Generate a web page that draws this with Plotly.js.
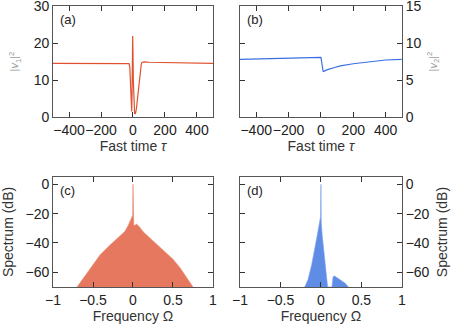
<!DOCTYPE html>
<html>
<head>
<meta charset="utf-8">
<script src="https://cdn.plot.ly/plotly-3.0.1.min.js"></script>
<style>
  html, body { margin: 0; padding: 0; background: #fff; }
  #chart { width: 452px; height: 328px; }
</style>
</head>
<body>
<div id="chart"></div>
<script>
// panel (a): |v1|^2 against fast time
const tauA = [-500, -300, -100, -40, -25, -20, -15, -10, -8, -6, -4, -2, 0, 2, 4, 7, 10, 13, 17, 22, 28, 34, 40, 46, 52, 58, 70, 100, 300, 500];
const v1 = [14.5, 14.5, 14.5, 14.5, 14.4, 13.5, 9, 3, 1.5, 6, 15, 21.9, 17, 10, 5, 2, 1, 0.8, 1.2, 2.5, 5, 8, 11, 13.3, 14.4, 14.8, 14.9, 14.8, 14.6, 14.5];

// panel (b): |v2|^2 against fast time
const tauB = [-500, -400, -200, 0, 4, 8, 14, 20, 40, 80, 120, 200, 300, 400, 500];
const v2 = [7.8, 7.85, 7.93, 8.05, 7.5, 6.8, 6.15, 6.2, 6.4, 6.65, 6.9, 7.2, 7.5, 7.7, 7.8];

// panel (c): spectrum of v1 (dB)
const omC = [-0.70, -0.62, -0.5, -0.41, -0.3, -0.2, -0.15, -0.1, -0.06, -0.03, -0.01, -0.004, 0, 0.004, 0.01, 0.02, 0.045, 0.08, 0.13, 0.2, 0.3, 0.42, 0.5, 0.59, 0.68, 0.75];
const specC = [-70, -64, -55, -48, -42, -37, -35, -32, -28, -24, -21.5, -21, 0, -25, -27.5, -28, -27, -29, -32.5, -36, -41, -46.5, -51, -57, -64, -70];

// panel (d): spectrum of v2 (dB)
const omD = [-0.2, -0.16, -0.115, -0.08, -0.053, -0.03, -0.012, -0.004, 0, 0.004, 0.015, 0.028, 0.045, 0.062, 0.083, 0.136, 0.15, 0.17, 0.21, 0.25, 0.3, 0.34];
const specD = [-70, -65, -55, -46, -37, -30, -25.5, -22, 0, -26, -34, -41, -50, -59.6, -70, -70, -63, -62.5, -64, -65.5, -67.5, -70];

const red = '#e0522f';
const blue = '#3b6fe0';

function axis(extra) {
  return Object.assign({
    showline: true, mirror: 'allticks', ticks: 'inside', ticklen: 5,
    tickcolor: '#333', linecolor: '#555', linewidth: 1,
    showgrid: false, zeroline: false, tickangle: 0, ticklabeloverflow: 'allow',
    tickfont: {size: 14, color: '#222'}
  }, extra);
}

const tauTitle = {text: 'Fast time <i>τ</i>', font: {size: 14, color: '#333'}, standoff: 4};
const omTitle = {text: 'Frequency Ω', font: {size: 14, color: '#333'}, standoff: 4};
const specTitle = {text: 'Spectrum (dB)', font: {size: 14, color: '#333'}, standoff: 8};

const traces = [
  {x: tauA, y: v1, xaxis: 'x', yaxis: 'y', mode: 'lines', line: {color: red, width: 1.2}},
  {x: tauB, y: v2, xaxis: 'x2', yaxis: 'y2', mode: 'lines', line: {color: blue, width: 1.2}},
  {x: omC, y: specC, xaxis: 'x3', yaxis: 'y3', mode: 'lines', fill: 'toself',
   fillcolor: '#e6785f', line: {color: '#ec8c74', width: 0.6}},
  {x: omD, y: specD, xaxis: 'x4', yaxis: 'y4', mode: 'lines', fill: 'toself',
   fillcolor: '#5f8de6', line: {color: '#7fa3ec', width: 0.6}}
];

const layout = {
  width: 452, height: 328,
  margin: {l: 0, r: 0, t: 0, b: 0},
  paper_bgcolor: '#fff', plot_bgcolor: '#fff',
  showlegend: false,
  font: {family: 'Liberation Sans, Arial, sans-serif', color: '#222'},
  xaxis: axis({domain: [0.1173, 0.4712], range: [-500, 500], dtick: 200, anchor: 'y', title: tauTitle}),
  yaxis: axis({domain: [0.6433, 0.9817], range: [0, 30], dtick: 10, anchor: 'x',
    title: {text: '|<i>v</i><sub>1</sub>|<sup>2</sup>', font: {size: 11, color: '#999'}, standoff: 12}}),
  xaxis2: axis({domain: [0.531, 0.889], range: [-500, 500], dtick: 200, anchor: 'y2', title: tauTitle}),
  yaxis2: axis({domain: [0.6433, 0.9817], range: [0, 15], dtick: 5, anchor: 'x2', side: 'right',
    title: {text: '|<i>v</i><sub>2</sub>|<sup>2</sup>', font: {size: 11, color: '#999'}, standoff: 8}}),
  xaxis3: axis({domain: [0.1173, 0.4712], range: [-1, 1], dtick: 0.5, anchor: 'y3', title: omTitle}),
  yaxis3: axis({domain: [0.125, 0.4604], range: [-70, 5], tickvals: [0, -20, -40, -60], anchor: 'x3', title: specTitle}),
  xaxis4: axis({domain: [0.531, 0.889], range: [-1, 1], dtick: 0.5, anchor: 'y4', title: omTitle}),
  yaxis4: axis({domain: [0.125, 0.4604], range: [-70, 5], tickvals: [0, -20, -40, -60], anchor: 'x4', side: 'right', title: specTitle}),
  annotations: [
    {text: '(a)', xref: 'x domain', yref: 'y domain', x: 0.03, y: 0.96},
    {text: '(b)', xref: 'x2 domain', yref: 'y2 domain', x: 0.03, y: 0.96},
    {text: '(c)', xref: 'x3 domain', yref: 'y3 domain', x: 0.03, y: 0.96},
    {text: '(d)', xref: 'x4 domain', yref: 'y4 domain', x: 0.03, y: 0.96}
  ].map(a => Object.assign(a, {showarrow: false, xanchor: 'left', yanchor: 'top', font: {size: 13, color: '#222'}}))
};

Plotly.newPlot('chart', traces, layout, {staticPlot: true, displayModeBar: false});
</script>
</body>
</html>
